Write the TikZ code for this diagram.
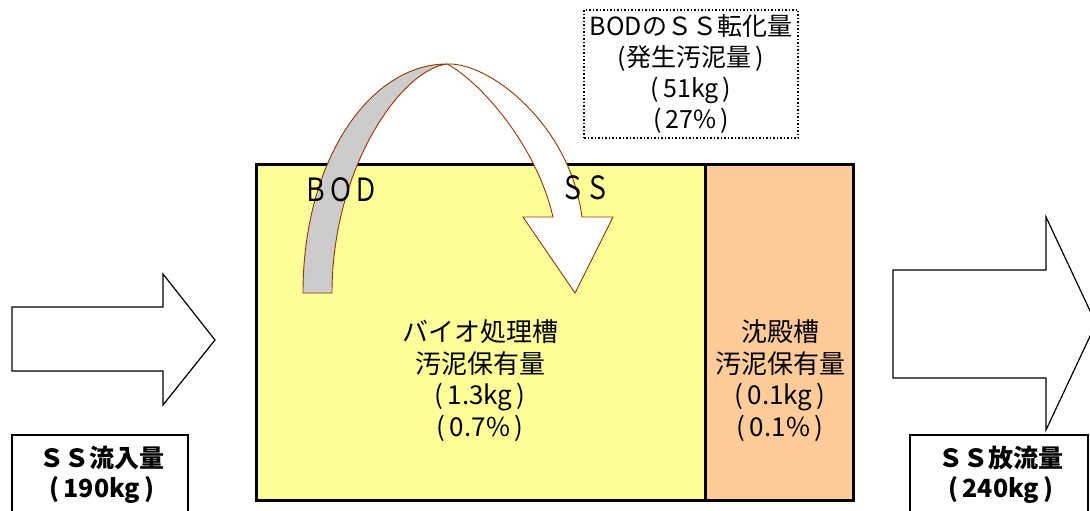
\documentclass[tikz,border=0pt]{standalone}
\usepackage{fontspec}
\setmainfont{Noto Sans CJK JP}
\definecolor{tankyellow}{HTML}{FFFF99}
\definecolor{settleorange}{HTML}{FFCC99}
\definecolor{ribbongray}{HTML}{CCCCCC}
\definecolor{ribbonedge}{HTML}{993300}
\tikzset{
  flowarrow/.style={draw=black, fill=white, line width=1.2pt, line join=miter},
  labelbox/.style={draw=black, fill=white, line width=1.5pt},
  ribbon/.style={draw=ribbonedge, line width=0.9pt, line join=miter},
  tanktext/.style={align=center, font=\fontsize{26}{31.7}\selectfont},
  flowtext/.style={align=center, font=\fontsize{25}{30}\selectfont\bfseries},
  lettertext/.style={font=\fontsize{32}{32}\selectfont}
}
\begin{document}
\begin{tikzpicture}[x=1pt, y=-1pt]
\useasboundingbox (0,0) rectangle (1090,511);
\clip (0,0) rectangle (1090,511);
% tanks
\fill[tankyellow] (256,164) rectangle (705,500);
\fill[settleorange] (705,164) rectangle (853,500);
\draw[line width=3pt] (256,164) rectangle (853,500);
\draw[line width=3pt] (705,164) -- (705,500);
% inflow / outflow arrows
\draw[flowarrow] (12,307) -- (163,307) -- (163,274) -- (215,340) -- (163,405) -- (163,371) -- (12,371) -- cycle;
\draw[flowarrow] (893,270) -- (1046,270) -- (1046,217) -- (1096,323.5) -- (1046,430) -- (1046,378) -- (893,378) -- cycle;
% BOD -> SS ribbon
\filldraw[ribbon, fill=ribbongray] (303,293) .. controls (303,160) and (370,64) .. (447,64)
  .. controls (400,70) and (332,170) .. (332,293) -- cycle;
\filldraw[ribbon, fill=white] (447,64) .. controls (475,78) and (535,140) .. (553,217)
  -- (523,217) -- (575,293) -- (613,217) -- (582,217)
  .. controls (570,125) and (490,62) .. (447,64) -- cycle;
% label boxes
\draw[labelbox] (12,435) rectangle (188,530);
\draw[labelbox] (910,435) rectangle (1088,530);
% texts
\node[tanktext] (biotext) at (480,380.5) {バイオ処理槽\\汚泥保有量\\(\,1.3kg\,)\\(\,0.7\%\,)};
\node[tanktext] (settletext) at (780,380.5) {沈殿槽\\汚泥保有量\\(\,0.1kg\,)\\(\,0.1\%\,)};
\node[draw=black, dotted, line width=1.5pt, fill=white, minimum width=214, minimum height=128,
  align=center, font=\fontsize{25}{31}\selectfont] (convbox) at (691,74)
  {BODのＳＳ転化量\\(発生汚泥量\,)\\(\,51kg\,)\\(\,27\%\,)};
\node[lettertext] (bodlbl) at (341,190) {\scalebox{0.78}[1]{ＢＯＤ}};
\node[lettertext] (sslbl) at (585,188) {\scalebox{0.78}[1]{ＳＳ}};
\node[flowtext] (inlbl) at (102,475) {ＳＳ流入量\\(\,190kg\,)};
\node[flowtext] (outlbl) at (1001,475) {ＳＳ放流量\\(\,240kg\,)};
\end{tikzpicture}
\end{document}
